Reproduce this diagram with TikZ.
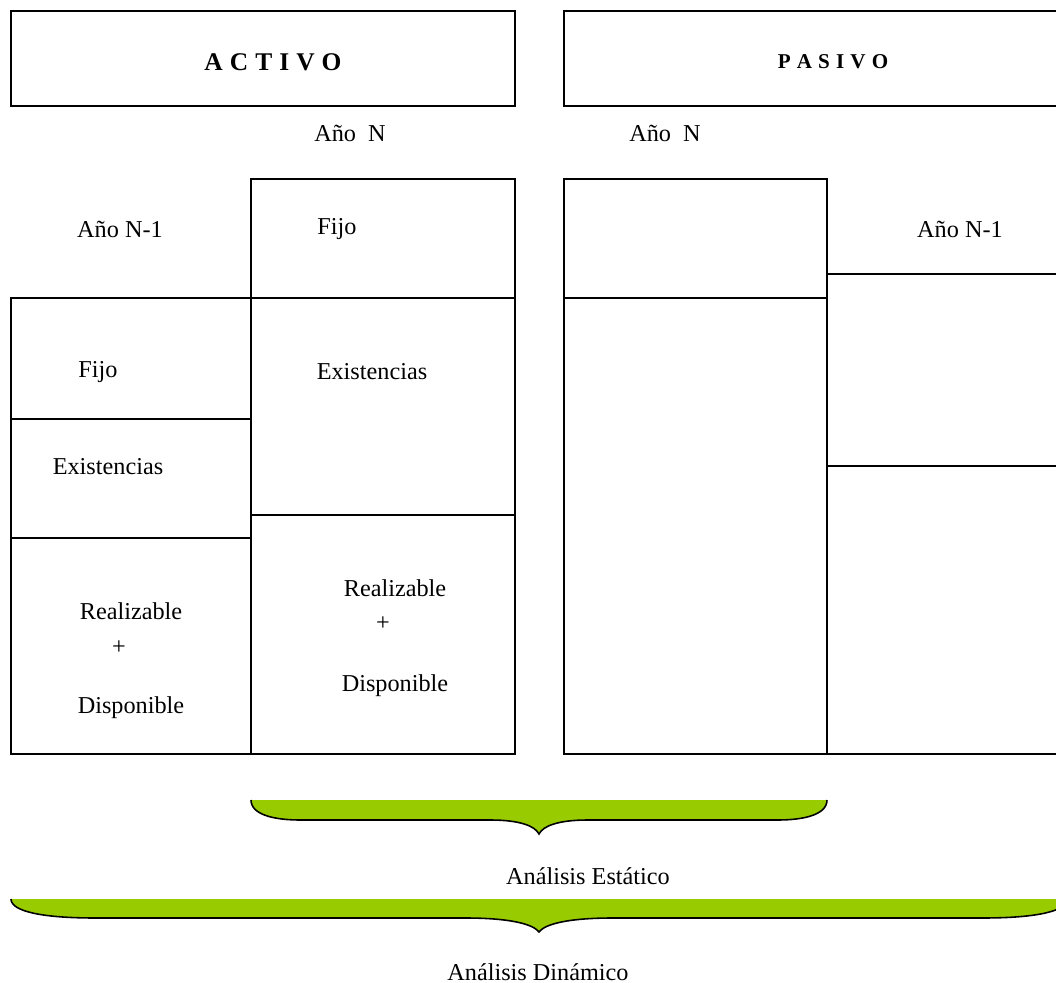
\documentclass[tikz,border=0pt]{standalone}
\usepackage{fontspec}
\setmainfont{Liberation Serif}
\definecolor{bracegreen}{HTML}{99CC00}
\begin{document}
\begin{tikzpicture}[x=0.02cm,y=-0.02cm,line width=0.9pt,
  lbl/.style={inner sep=0pt,font=\fontsize{13.8}{16}\selectfont},
  ttl/.style={inner sep=0pt,font=\fontsize{14.5}{17}\selectfont\bfseries},
  ttlsmall/.style={inner sep=0pt,font=\fontsize{12}{14}\selectfont\bfseries}]
\useasboundingbox (0,0) rectangle (1056,983);
% titles
\draw (11,11) rectangle (515,106);
\draw (1060,11) -- (564,11) -- (564,106) -- (1060,106);
\node[ttl] (activo) at (273,62) {A\hspace{4pt}C\hspace{4pt}T\hspace{4pt}I\hspace{4pt}V\hspace{4pt}O};
\node[ttlsmall] (pasivo) at (833,62) {P\hspace{3.5pt}A\hspace{3.5pt}S\hspace{3.5pt}I\hspace{3.5pt}V\hspace{3.5pt}O};
\node[lbl] (anoNa) at (350,133) {Año\ \ N};
\node[lbl] (anoNp) at (665,133) {Año\ \ N};
% activo N-1
\draw (11,298) rectangle (251,754);
\draw (11,419) -- (251,419);
\draw (11,538) -- (251,538);
% activo N
\draw (251,179) rectangle (515,754);
\draw (251,298) -- (515,298);
\draw (251,515) -- (515,515);
% pasivo N
\draw (564,179) rectangle (827,754);
\draw (564,298) -- (827,298);
% pasivo N-1
\draw (1060,274) -- (827,274) -- (827,754) -- (1060,754);
\draw (827,466) -- (1060,466);
\node[lbl] (anoNa1) at (120,229) {Año N-1};
\node[lbl] (fijoN) at (337,229) {Fijo};
\node[lbl] (anoNp1) at (960,229) {Año N-1};
\node[lbl] (fijoA) at (98,372) {Fijo};
\node[lbl] (exisA) at (108,467) {Existencias};
\node[lbl] (exisN) at (372,372) {Existencias};
\node[lbl] (realA) at (131,611) {Realizable};
\node[lbl] (masA) at (119,648) {+};
\node[lbl] (dispA) at (131,708) {Disponible};
\node[lbl] (realN) at (395,588) {Realizable};
\node[lbl] (masN) at (383,624) {+};
\node[lbl] (dispN) at (395,686) {Disponible};
% llaves
\fill[bracegreen] (251,800) .. controls (251,815) and (275,820) .. (300,820) -- (490,820) .. controls (520,820) and (535,826) .. (539,834) .. controls (543,826) and (558,820) .. (588,820) -- (778,820) .. controls (803,820) and (827,815) .. (827,800) -- cycle;
\draw (251,800) .. controls (251,815) and (275,820) .. (300,820) -- (490,820) .. controls (520,820) and (535,826) .. (539,834) .. controls (543,826) and (558,820) .. (588,820) -- (778,820) .. controls (803,820) and (827,815) .. (827,800);
\node[lbl] (estatico) at (588,876) {Análisis Estático};
\fill[bracegreen] (11,899) .. controls (11,912) and (45,918) .. (95,918) -- (465,918) .. controls (510,918) and (533,924) .. (539,932) .. controls (545,924) and (568,918) .. (613,918) -- (983,918) .. controls (1033,918) and (1067,912) .. (1067,899) -- cycle;
\draw (11,899) .. controls (11,912) and (45,918) .. (95,918) -- (465,918) .. controls (510,918) and (533,924) .. (539,932) .. controls (545,924) and (568,918) .. (613,918) -- (983,918) .. controls (1033,918) and (1067,912) .. (1067,899);
\node[lbl] (dinamico) at (538,972) {Análisis Dinámico};
\end{tikzpicture}
\end{document}
